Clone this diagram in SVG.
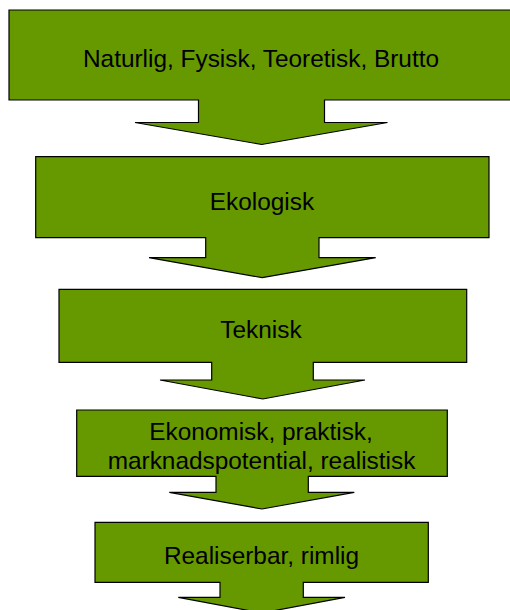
<svg xmlns="http://www.w3.org/2000/svg" width="510" height="610" viewBox="0 0 510 610">
<style>
.shape{fill:#669900;stroke:#000;stroke-width:1.2;stroke-linejoin:miter}
.lbl{font-family:"Liberation Sans",Arial,sans-serif;font-size:24.4px;fill:#000;text-anchor:middle}
</style>
<rect width="510" height="610" fill="#fff"/>
<g id="node1">
<polygon class="shape" points="9,10 514,10 514,100 324.5,100 324.5,122.5 387.5,122.5 261.7,144.5 135,122.5 198.5,122.5 198.5,100 9,100"/>
<text class="lbl" x="261" y="67">Naturlig, Fysisk, Teoretisk, Brutto</text>
</g>
<g id="node2">
<polygon class="shape" points="35.7,156.7 489,156.7 489,237.7 319,237.7 319,257.7 375.7,257.7 262.3,277.7 149,257.7 205.7,257.7 205.7,237.7 35.7,237.7"/>
<text class="lbl" x="262" y="209.5">Ekologisk</text>
</g>
<g id="node3">
<polygon class="shape" points="59,289.3 466.7,289.3 466.7,362.3 313.3,362.3 313.3,380 365,380 262.8,399 160,380 211.7,380 211.7,362.3 59,362.3"/>
<text class="lbl" x="261" y="338.3">Teknisk</text>
</g>
<g id="node4">
<polygon class="shape" points="76.7,410 447.3,410 447.3,476.3 308.3,476.3 308.3,492.3 354.3,492.3 262,509 169.3,492.3 216,492.3 216,476.3 76.7,476.3"/>
<text class="lbl" x="261" y="440">Ekonomisk, praktisk,</text>
<text class="lbl" x="261.5" y="469">marknadspotential, realistisk</text>
</g>
<g id="node5">
<polygon class="shape" points="95,522.3 428.3,522.3 428.3,582.3 303.3,582.3 303.3,597.3 345,597.3 261.7,613 178.3,597.3 220,597.3 220,582.3 95,582.3"/>
<text class="lbl" x="261.5" y="564.3">Realiserbar, rimlig</text>
</g>
<g id="connectors"></g>
</svg>
